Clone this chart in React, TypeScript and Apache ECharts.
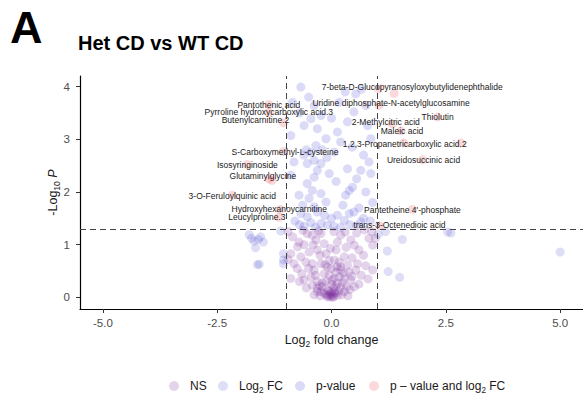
import React, { useEffect, useRef } from "react";
import * as echarts from "echarts";

const FONT = '"Liberation Sans", Arial, Helvetica, sans-serif';

// axis ticks
const xTicks = [-5, -2.5, 0, 2.5, 5];
const yTicks = [0, 1, 2, 3, 4];
const fcCutoff = 1;
const pCutoff = 1.30103; // -log10(0.05)

// NS points: [log2FC, -log10 P]
const nsPoints: [number, number][] = [
  [-0.53, 1.21], [-0.42, 1.18], [-0.34, 1.09], [-0.23, 1.21], [-0.16, 1.02], [-0.49, 0.86], [-0.31, 0.9],
  [-0.12, 0.83], [-0.02, 0.93], [0.13, 1.05], [0.2, 1.18], [0.42, 1.09], [0.5, 0.99], [0.6, 0.9],
  [0.82, 1.12], [0.9, 0.99], [0.96, 1.12], [-0.71, 1.05], [-0.74, 0.96], [-0.89, 0.83], [-0.82, 0.64],
  [-0.67, 0.77], [-0.56, 0.67], [-0.42, 0.64], [-0.23, 0.64], [-0.09, 0.58], [0.06, 0.71], [0.17, 0.67],
  [0.2, 0.58], [0.28, 0.77], [0.35, 0.61], [0.53, 0.52], [0.57, 0.64], [0.9, 0.52], [-0.89, 0.36],
  [-0.6, 0.33], [-0.45, 0.39], [-0.31, 0.3], [-0.16, 0.45], [-0.05, 0.42], [0.06, 0.36], [0.17, 0.39],
  [0.2, 0.52], [0.28, 0.36], [0.42, 0.33], [0.5, 0.2], [-0.42, 0.23], [-0.31, 0.17], [-0.2, 0.2],
  [-0.09, 0.14], [0.02, 0.04], [-0.02, 0.01], [0.06, 0.11], [0.09, 0.2], [0.13, 0.27], [-0.16, 0.08],
  [-0.23, 0.11], [0.2, 0.2], [0.28, 0.11], [-0.31, 0.11], [0.13, 0.04], [-0.09, 0.01],
  [-0.95, 1.25], [-0.85, 1.15], [-0.62, 1.27], [-0.28, 1.26], [0.05, 1.25], [0.3, 1.24], [0.55, 1.22],
  [0.72, 1.28], [0.88, 1.25], [-0.75, 0.55], [-0.65, 0.45], [-0.95, 0.72], [0.7, 0.8], [0.75, 0.6],
  [0.65, 0.42], [0.8, 0.35], [0.38, 0.48], [0.45, 0.75], [-0.38, 0.52], [-0.5, 0.55], [-0.25, 0.8],
  [-0.05, 0.7], [0.1, 0.9], [0.32, 0.95], [-0.6, 1.0], [-0.4, 1.0], [0.0, 0.55], [0.1, 0.48],
  [-0.12, 0.3], [0.0, 0.25], [0.04, 0.18], [-0.05, 0.12], [0.08, 0.08], [-0.12, 0.05], [0.16, 0.12],
  [-0.2, 0.28], [0.24, 0.28], [0.33, 0.2], [-0.26, 0.22], [0.01, 0.33], [-0.35, 0.42], [0.12, 0.58],
  [-0.14, 0.62], [0.27, 0.46], [0.4, 0.15], [0.36, 0.03], [-0.38, 0.05], [0.22, 0.05], [-0.25, 0.03],
  [0.45, 0.4], [-0.55, 0.18], [0.6, 0.25], [-0.7, 0.3], [0.03, 0.0], [-0.04, 0.06], [0.05, 0.02],
  [0.0, 0.09], [-0.07, 0.03],
];

// Log2 FC only (|FC| > 1, p >= 0.05)
const fcPoints: [number, number][] = [
  [-1.8, 1.19], [-1.69, 1.07], [-1.55, 1.15], [-1.49, 1.05], [-1.66, 0.94], [-1.6, 1.1], [-1.58, 0.63],
  [-1.62, 0.62], [-1.05, 0.83], [-1.05, 0.71], [-1.05, 0.64], [-1.11, 1.26], [-1.75, 1.12],
  [2.54, 1.24], [2.61, 1.22], [1.55, 1.1], [1.22, 0.88], [1.24, 0.49], [1.49, 0.38], [5.0, 0.86],
  [1.02, 1.2], [1.18, 1.25],
];

// p-value only (|FC| <= 1, p < 0.05)
const pPoints: [number, number][] = [
  [-0.67, 3.99], [-0.38, 3.64], [-0.23, 3.45], [-0.45, 3.39], [-0.31, 3.2], [-0.6, 3.26], [0.17, 3.7],
  [0.35, 3.33], [0.13, 3.14], [-0.12, 3.01], [-0.89, 3.07], [0.53, 3.86], [0.49, 3.52], [0.75, 3.64],
  [0.79, 3.26], [0.86, 3.01], [0.2, 2.95], [-0.34, 2.88], [0.06, 2.76], [-0.82, 2.57], [-0.53, 2.54],
  [-0.38, 2.6], [-0.23, 2.54], [-0.31, 2.41], [0.35, 2.44], [0.64, 2.41], [0.82, 2.57], [0.86, 2.35],
  [-0.89, 2.32], [-0.38, 2.28], [-0.53, 2.16], [-0.42, 2.03], [-0.23, 1.97], [-0.71, 1.94], [-0.49, 1.88],
  [-0.12, 1.81], [0.46, 2.09], [0.39, 2.03], [0.31, 1.94], [0.75, 2.0], [-0.63, 1.75], [-0.38, 1.72],
  [-0.31, 1.62], [-0.67, 1.59], [-0.53, 1.53], [0.13, 1.56], [0.39, 1.59], [0.49, 1.62], [0.28, 1.46],
  [-0.23, 1.4], [-0.09, 1.37], [0.64, 1.43], [-0.55, 2.8], [-0.45, 2.75], [-0.6, 2.7], [-0.2, 2.8],
  [-0.1, 2.65], [-0.8, 1.45], [-0.7, 1.38], [-0.6, 1.35], [-0.45, 1.42], [-0.35, 1.33], [0.05, 1.35],
  [0.2, 1.33], [0.4, 1.38], [0.55, 1.36], [0.7, 1.5], [0.85, 1.45], [0.9, 1.8], [0.6, 1.7], [0.0, 1.5],
  [-0.15, 1.55], [0.25, 1.75], [0.1, 2.2], [-0.05, 2.35], [0.55, 2.25], [0.7, 2.7], [0.45, 2.85],
  [-0.7, 3.5], [0.0, 3.4], [0.3, 3.9], [-0.5, 3.8], [0.65, 3.95], [-0.85, 3.7],
];

// p-value and log2 FC (significant), with metabolite names
const sigNames = [
  "7-beta-D-Glucopyranosyloxybutylidenephthalide",
  "Uridine diphosphate-N-acetylglucosamine",
  "Pantothenic acid",
  "Pyrroline hydroxycarboxylic acid.3",
  "Butenylcarnitine.2",
  "Thiolutin",
  "2-Methylcitric acid",
  "Maleic acid",
  "1,2,3-Propanetricarboxylic acid.2",
  "Ureidosuccinic acid",
  "S-Carboxymethyl-L-cysteine",
  "Isosyringinoside",
  "Glutaminylglycine",
  "3-O-Feruloylquinic acid",
  "Hydroxyhexanoycarnitine",
  "Leucylproline.3",
  "Pantetheine 4'-phosphate",
  "trans-3-Octenedioic acid",
  "",
  "",
  "",
];
const sigPoints: [number, number][] = [
  [1.37, 3.87], [1.04, 3.64], [-1.37, 3.66], [-1.37, 3.51], [-1.05, 3.31], [2.32, 3.42], [1.33, 3.29],
  [1.52, 3.16], [1.58, 2.93], [1.99, 2.61], [-1.05, 2.77], [-1.84, 2.52], [-1.37, 2.25], [-2.17, 1.94],
  [-1.12, 1.67], [-1.15, 1.52], [1.77, 1.67], [1.05, 1.36], [1.03, 3.96], [2.83, 2.93], [-1.3, 2.22],
];

// label placement (pixel offsets from each point) — layout only
const labelOffsets: [number, number][] = [
  [18, -6], [12, -3], [0, 1], [0, 0], [-28, -3], [0, 0], [-6.5, -2], [1, 0], [1, 1], [1, 0],
  [1.5, 0.5], [0, 0], [-6, -2.5], [0, 1], [-1, 0], [-22, 0], [0, 1], [20, -0.5], [0, 0], [0, 0], [0, 0],
];

const legendNames = ["NS", "Log2 FC", "p-value", "p \u2013 value and log2 FC"];
// legend item left edges (layout only)
const legendLefts = [164, 213, 290, 364];

const COLORS = {
  ns: "rgba(112,32,150,0.24)",
  fc: "rgba(68,68,204,0.22)",
  p: "rgba(53,53,208,0.22)",
  sig: "rgba(232,16,26,0.2)",
};

export default function App() {
  const ref = useRef<HTMLDivElement>(null);

  useEffect(() => {
    if (!ref.current) return;
    const chart = echarts.init(ref.current, null, { renderer: "svg" });
    const sym = 9;

    const legendFormatter = (name: string) => {
      if (name === legendNames[1]) return "{t|Log}{s|2}{t| FC}";
      if (name === legendNames[3]) return "{t|p \u2013 value and log}{s|2}{t| FC}";
      return "{t|" + name + "}";
    };

    const subRich = (size: number) => ({
      t: { fontSize: size, fontFamily: FONT, color: "#1a1a1a", lineHeight: 16, verticalAlign: "middle" },
      s: { fontSize: size * 0.68, fontFamily: FONT, color: "#1a1a1a", lineHeight: 16, verticalAlign: "bottom", padding: [6, 0, 0, 0] },
      i: { fontSize: size, fontFamily: FONT, fontStyle: "italic", color: "#1a1a1a", lineHeight: 16, verticalAlign: "middle" },
    });

    chart.setOption({
      animation: false,
      textStyle: { fontFamily: FONT },
      graphic: [
        {
          type: "text",
          left: 10,
          top: 5,
          style: { text: "A", font: "bold 45px " + FONT, fill: "#000" },
        },
        {
          type: "text",
          left: 78,
          top: 33,
          style: { text: "Het CD vs WT CD", font: "bold 20px " + FONT, fill: "#000" },
        },
      ],
      grid: { left: 80, right: 0, top: 76, bottom: 86 },
      legend: legendNames.map((n, i) => ({
        left: legendLefts[i],
        top: 375,
        itemWidth: 22,
        itemHeight: 10,
        icon: "circle",
        data: [n],
        formatter: legendFormatter,
        textStyle: { fontFamily: FONT, color: "#1a1a1a", rich: subRich(12) },
      })),
      xAxis: {
        type: "value",
        min: -5.5,
        max: 5.5,
        splitLine: { show: false },
        axisLine: { onZero: false, lineStyle: { color: "#000", width: 1.2 } },
        axisTick: { show: true, length: 4, customValues: xTicks, lineStyle: { color: "#333" } },
        axisLabel: {
          customValues: xTicks,
          formatter: (v: number) => v.toFixed(1),
          color: "#4d4d4d",
          fontSize: 11.5,
          margin: 8,
          fontFamily: FONT,
        },
        name: "{t|Log}{s|2}{t| fold change}",
        nameLocation: "middle",
        nameGap: 23,
        nameMoveOverlap: false,
        nameTextStyle: { fontFamily: FONT, rich: subRich(12.5) },
      },
      yAxis: {
        type: "value",
        min: -0.22,
        max: 4.2,
        splitLine: { show: false },
        axisLine: { onZero: false, lineStyle: { color: "#000", width: 1.2 } },
        axisTick: { show: true, length: 4, customValues: yTicks, lineStyle: { color: "#333" } },
        axisLabel: {
          customValues: yTicks,
          color: "#4d4d4d",
          fontSize: 11.5,
          margin: 10,
          fontFamily: FONT,
        },
        name: "{t|-Log}{s|10}{i| P}",
        nameLocation: "middle",
        nameGap: 19,
        nameMoveOverlap: false,
        nameTextStyle: { fontFamily: FONT, rich: subRich(12.5) },
      },
      series: [
        {
          name: legendNames[0],
          type: "scatter",
          symbolSize: sym,
          itemStyle: { color: COLORS.ns },
          data: nsPoints,
          markLine: {
            silent: true,
            symbol: "none",
            label: { show: false },
            lineStyle: { color: "#444", type: [6, 4], width: 1 },
            data: [{ xAxis: -fcCutoff }, { xAxis: fcCutoff }, { yAxis: pCutoff }],
          },
        },
        {
          name: legendNames[1],
          type: "scatter",
          symbolSize: sym,
          itemStyle: { color: COLORS.fc },
          data: fcPoints,
        },
        {
          name: legendNames[2],
          type: "scatter",
          symbolSize: sym,
          itemStyle: { color: COLORS.p },
          data: pPoints,
        },
        {
          name: legendNames[3],
          type: "scatter",
          symbolSize: sym,
          itemStyle: { color: COLORS.sig },
          data: sigPoints.map((p, i) => ({
            value: p,
            name: sigNames[i],
            label: {
              show: sigNames[i] !== "",
              position: "inside",
              formatter: sigNames[i],
              fontSize: 8.5,
              fontFamily: FONT,
              color: "#1a1a1a",
              opacity: 1,
            },
          })),
          labelLayout: (params: any) => ({
            dx: labelOffsets[params.dataIndex][0],
            dy: labelOffsets[params.dataIndex][1],
            hideOverlap: false,
          }),
        },
      ],
    });
    return () => chart.dispose();
  }, []);

  return (
    <div
      ref={ref}
      style={{ position: "absolute", left: 0, top: 0, width: 583, height: 395, background: "#fff" }}
    />
  );
}
